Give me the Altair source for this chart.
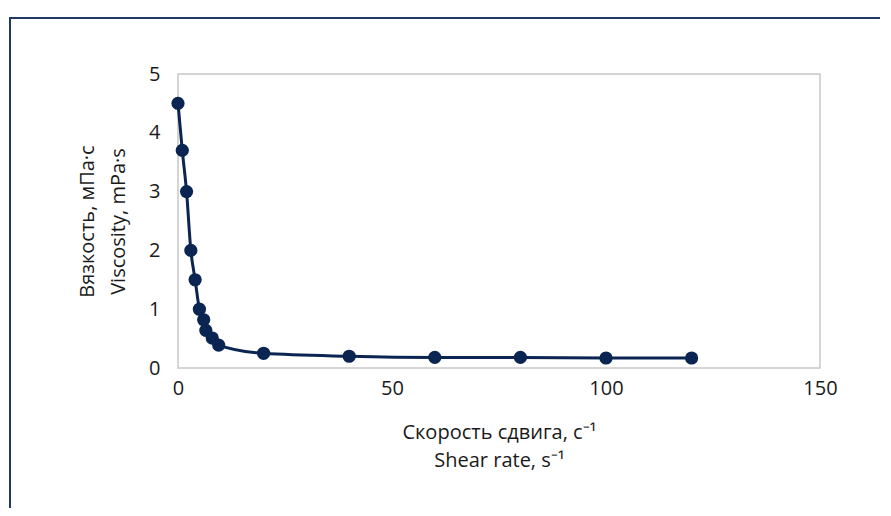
import altair as alt
import pandas as pd

shear_rate = [0, 1, 2, 3, 4, 5, 6, 6.5, 8, 9.5, 20, 40, 60, 80, 100, 120]
viscosity = [4.5, 3.7, 3.0, 2.0, 1.5, 1.0, 0.82, 0.64, 0.51, 0.39, 0.25, 0.2, 0.18, 0.18, 0.17, 0.17]
x_ticks = [0, 50, 100, 150]
y_ticks = [0, 1, 2, 3, 4, 5]
x_title = ["Скорость сдвига, с⁻¹", "Shear rate, s⁻¹"]
y_title = ["Вязкость, мПа·с", "Viscosity, mPa·s"]

df = pd.DataFrame({"x": shear_rate, "y": viscosity})
NAVY = "#0b2552"
FONT = "Open Sans"

x_enc = alt.X("x:Q", scale=alt.Scale(domain=[0, 150], nice=False, zero=True),
              axis=alt.Axis(values=x_ticks, title=x_title, labelPadding=10, format="d",
                            labelFlush=False, titlePadding=24, titleLineHeight=28))
y_enc = alt.Y("y:Q", scale=alt.Scale(domain=[0, 5], nice=False),
              axis=alt.Axis(values=y_ticks, title=y_title, labelPadding=18, format="d",
                            labelFlush=False, titlePadding=20, titleLineHeight=31))

line = alt.Chart(df).mark_line(color=NAVY, strokeWidth=3, interpolate="monotone").encode(x=x_enc, y=y_enc)
pts = alt.Chart(df).mark_circle(color=NAVY, size=175, opacity=1).encode(x="x:Q", y="y:Q")

border = alt.Chart(pd.DataFrame({"a": [0]})).mark_rect(
    fill=None, stroke="#1f3864", strokeWidth=2
).encode(x=alt.value(-168), x2=alt.value(740), y=alt.value(-56), y2=alt.value(600))

chart = alt.layer(border, line, pts).properties(
    width=642, height=294,
    autosize=alt.AutoSizeParams(type="none"),
    padding={"left": 170, "top": 66, "right": 60, "bottom": 140},
).configure_view(
    stroke="#c8c8c8", strokeWidth=1.5
).configure_axis(
    grid=False, ticks=False, domain=False,
    labelFont=FONT, titleFont=FONT, labelFontSize=20, titleFontSize=20,
    labelColor="#1a1a1a", titleColor="#1a1a1a", titleFontWeight="normal",
)

chart.save("out.html", embed_options={"renderer": "svg", "actions": False})
